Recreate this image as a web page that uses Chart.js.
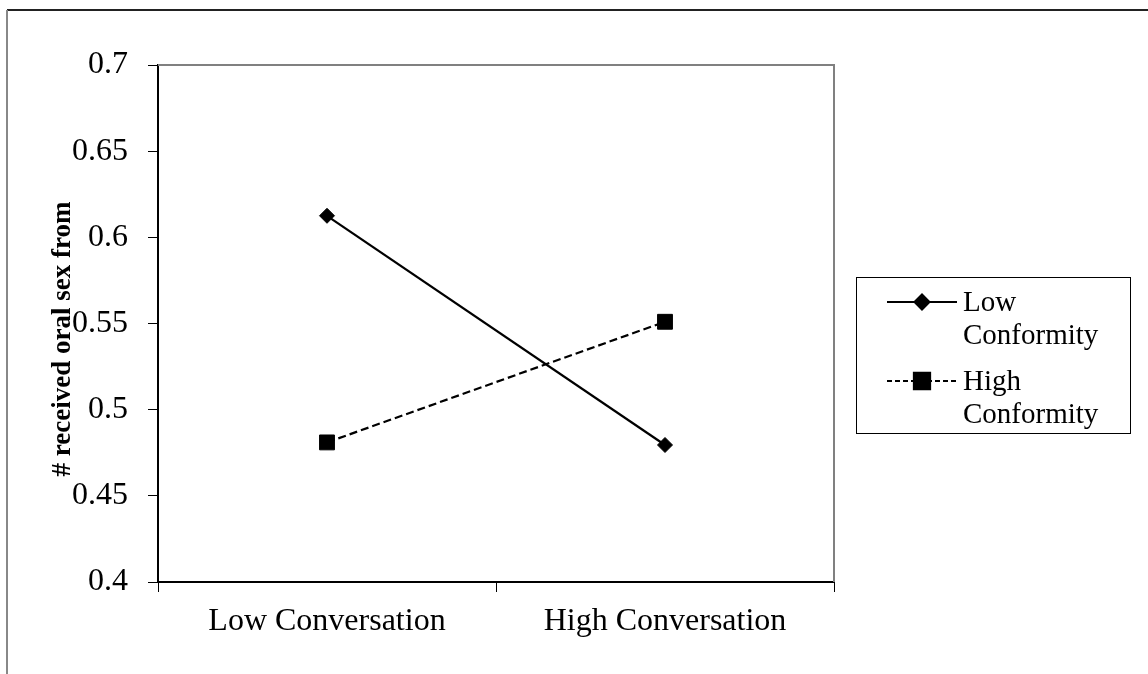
<!DOCTYPE html>
<html>
<head>
<meta charset="utf-8">
<script src="https://cdn.jsdelivr.net/npm/chart.js@4.4.1/dist/chart.umd.min.js"></script>
<style>
  html, body { margin: 0; padding: 0; background: #fff; }
  #wrap { width: 1148px; height: 674px; }
</style>
</head>
<body>
<div id="wrap"><canvas id="chart" width="1148" height="674"></canvas></div>
<script>
  // chart data
  const categories = ['Low Conversation', 'High Conversation'];
  const lowConformity = [0.6125, 0.4795];
  const highConformity = [0.481, 0.551];
  const seriesNames = ['Low Conformity', 'High Conformity'];
  const yTicks = [0.4, 0.45, 0.5, 0.55, 0.6, 0.65, 0.7];
  const yTitle = '# received oral sex from';

  const serif = '"Liberation Serif", "Times New Roman", serif';

  // outer frame, grey top/right edge of the plot area, y title
  const framePlugin = {
    id: 'frame',
    beforeDraw(chart) {
      const c = chart.ctx;
      c.save();
      c.fillStyle = '#fff';
      c.fillRect(0, 0, chart.width, chart.height);
      c.lineWidth = 2;
      c.strokeStyle = '#222';
      c.beginPath();
      c.moveTo(7, 10);
      c.lineTo(chart.width, 10);
      c.stroke();
      c.strokeStyle = '#888';
      c.beginPath();
      c.moveTo(7, 10);
      c.lineTo(7, chart.height);
      c.stroke();
      c.restore();
    },
    afterDraw(chart) {
      const a = chart.chartArea;
      const c = chart.ctx;
      c.save();
      c.strokeStyle = '#808080';
      c.lineWidth = 2;
      c.beginPath();
      c.moveTo(a.left, a.top);
      c.lineTo(a.right, a.top);
      c.lineTo(a.right, a.bottom);
      c.stroke();
      // rotated axis title, sits a bit below the plot centre like the original
      c.translate(63, 339);
      c.rotate(-Math.PI / 2);
      c.font = 'bold 27px ' + serif;
      c.fillStyle = '#000';
      c.textAlign = 'center';
      c.textBaseline = 'middle';
      c.fillText(yTitle, 0, 0);
      c.restore();
    }
  };

  // boxed legend on the right, labels wrap onto two lines
  const legendBox = {
    id: 'legendBox',
    afterDraw(chart) {
      const c = chart.ctx;
      const x0 = 856, y0 = 277, w = 274, h = 156;
      c.save();
      c.strokeStyle = '#000';
      c.lineWidth = 1;
      c.strokeRect(x0 + 0.5, y0 + 0.5, w, h);
      c.font = '29px ' + serif;
      c.textBaseline = 'alphabetic';
      chart.data.datasets.forEach((ds, i) => {
        const ly = 302 + i * 79;
        c.strokeStyle = '#000';
        c.lineWidth = 2;
        c.setLineDash(ds.borderDash ? [5, 3] : []);
        c.beginPath();
        c.moveTo(887, ly);
        c.lineTo(957, ly);
        c.stroke();
        c.setLineDash([]);
        Chart.helpers.drawPoint(c, {
          pointStyle: ds.pointStyle,
          radius: ds.pointStyle === 'rect' ? 11.5 : 7.5,
          rotation: 0,
          borderWidth: 1
        }, 922, ly);
        c.fillStyle = '#000';
        c.fill();
        ds.label.split(' ').forEach((line, j) => {
          c.fillText(line, 963, ly + 9 + j * 33);
        });
      });
      c.restore();
    }
  };

  new Chart(document.getElementById('chart'), {
    type: 'line',
    data: {
      labels: categories,
      datasets: [
        {
          label: seriesNames[0],
          data: lowConformity,
          borderColor: '#000',
          backgroundColor: '#000',
          borderWidth: 2.2,
          pointStyle: 'rectRot',
          pointRadius: 7.5,
          pointBorderWidth: 1,
          tension: 0
        },
        {
          label: seriesNames[1],
          data: highConformity,
          borderColor: '#000',
          backgroundColor: '#000',
          borderWidth: 2.2,
          borderDash: [8, 4],
          pointStyle: 'rect',
          pointRadius: 10.5,
          pointBorderWidth: 1,
          tension: 0
        }
      ]
    },
    options: {
      responsive: false,
      animation: false,
      layout: { padding: { top: 65, right: 314, bottom: 0, left: 0 } },
      plugins: {
        legend: { display: false },
        tooltip: { enabled: false }
      },
      scales: {
        x: {
          offset: true,
          grid: {
            offset: true,
            drawOnChartArea: false,
            drawTicks: true,
            tickLength: 10,
            color: '#000',
            lineWidth: 1
          },
          border: { color: '#000', width: 2 },
          ticks: {
            color: '#000',
            padding: 10,
            maxRotation: 0,
            font: { family: serif, size: 32 }
          },
          afterFit(scale) { scale.height = 92; }
        },
        y: {
          min: 0.4,
          max: 0.7,
          afterBuildTicks(scale) {
            scale.ticks = yTicks.map(v => ({ value: v }));
          },
          grid: {
            drawOnChartArea: false,
            drawTicks: true,
            tickLength: 10,
            color: '#000',
            lineWidth: 1
          },
          border: { color: '#000', width: 2 },
          ticks: {
            color: '#000',
            padding: 20,
            font: { family: serif, size: 32 },
            callback: v => String(Math.round(v * 100) / 100)
          },
          afterFit(scale) { scale.width = 158; }
        }
      }
    },
    plugins: [framePlugin, legendBox]
  });
</script>
</body>
</html>
